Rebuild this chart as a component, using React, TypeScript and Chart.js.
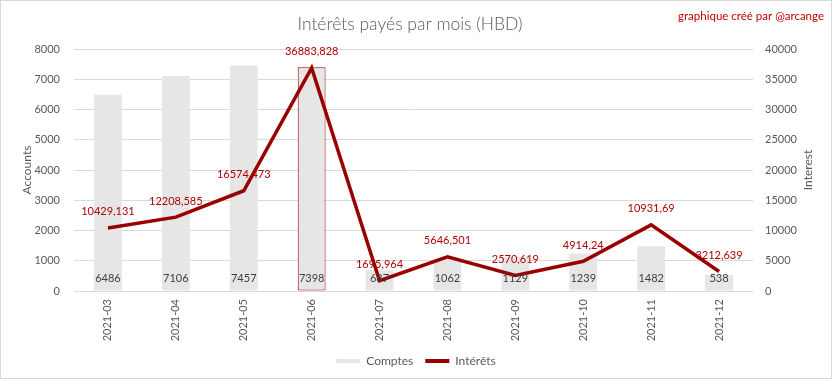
import React, { useEffect, useRef } from "react";
import { Chart, registerables } from "chart.js";

Chart.register(...registerables);

const months = ["2021-03", "2021-04", "2021-05", "2021-06", "2021-07", "2021-08", "2021-09", "2021-10", "2021-11", "2021-12"];
const comptes = [6486, 7106, 7457, 7398, 687, 1062, 1129, 1239, 1482, 538];
const interets = [10429.131, 12208.585, 16574.473, 36883.828, 1695.964, 5646.501, 2570.619, 4914.24, 10931.69, 3212.639];
const highlightMonth = "2021-06";
const leftTicks = [0, 8000, 1000];
const rightTicks = [0, 40000, 5000];

const titleText = "Intérêts payés par mois (HBD)";
const creditText = "graphique créé par @arcange";
const FONT = "Lato, 'Noto Sans', sans-serif";

const fmt = (v: number) => String(v).replace(".", ",");

const overlayPlugin = {
  id: "overlay",
  beforeDraw(chart: any) {
    const ctx = chart.ctx;
    ctx.save();
    ctx.fillStyle = "#ffffff";
    ctx.fillRect(0, 0, chart.width, chart.height);
    ctx.restore();
  },
  afterDraw(chart: any) {
    const ctx = chart.ctx;
    ctx.save();
    ctx.strokeStyle = "#d9d9d9";
    ctx.lineWidth = 1;
    ctx.strokeRect(0.5, 0.5, chart.width - 1, chart.height - 1);
    ctx.fillStyle = "#595959";
    ctx.font = `300 17.5px ${FONT}`;
    ctx.textAlign = "center";
    ctx.textBaseline = "middle";
    ctx.fillText(titleText, 410, 24);
    ctx.fillStyle = "#c00000";
    ctx.font = `11.5px ${FONT}`;
    ctx.textAlign = "right";
    ctx.fillText(creditText, 824, 16);
    ctx.fillStyle = "#595959";
    ctx.font = `12px ${FONT}`;
    ctx.textAlign = "center";
    ctx.save();
    ctx.translate(27, 170);
    ctx.rotate(-Math.PI / 2);
    ctx.fillText("Accounts", 0, 0);
    ctx.restore();
    ctx.save();
    ctx.translate(808, 170);
    ctx.rotate(-Math.PI / 2);
    ctx.fillText("Interest", 0, 0);
    ctx.restore();
    const barMeta = chart.getDatasetMeta(0);
    const lineMeta = chart.getDatasetMeta(1);
    const y0 = chart.scales.y.getPixelForValue(0);
    ctx.font = `11px ${FONT}`;
    ctx.textAlign = "center";
    ctx.fillStyle = "#404040";
    barMeta.data.forEach((el: any, i: number) => {
      ctx.fillText(String(comptes[i]), el.x, y0 - 13);
    });
    ctx.fillStyle = "#b00000";
    lineMeta.data.forEach((el: any, i: number) => {
      ctx.fillText(fmt(interets[i]), el.x, el.y - 16);
    });
    ctx.restore();
  },
};

export default function App() {
  const ref = useRef<HTMLCanvasElement>(null);
  useEffect(() => {
    document.body.style.margin = "0";
    const chart = new Chart(ref.current!, {
      type: "bar",
      data: {
        labels: months,
        datasets: [
          {
            type: "bar",
            label: "Comptes",
            data: comptes,
            yAxisID: "y",
            backgroundColor: "#e6e6e6",
            borderColor: months.map((m) => (m === highlightMonth ? "#990000" : "#e6e6e6")),
            borderWidth: months.map((m) => (m === highlightMonth ? 1 : 0)),
            borderSkipped: false,
            categoryPercentage: 1,
            barPercentage: 0.41,
            order: 2,
          },
          {
            type: "line",
            label: "Intérêts",
            data: interets,
            yAxisID: "y1",
            borderColor: "#990000",
            backgroundColor: "#990000",
            borderWidth: 3.5,
            pointRadius: 0,
            tension: 0,
            order: 1,
          } as any,
        ],
      },
      options: {
        responsive: false,
        animation: false,
        layout: { padding: { top: 49, left: 0, right: 0, bottom: 2 } },
        plugins: {
          title: { display: false },
          tooltip: { enabled: false },
          legend: {
            position: "bottom",
            labels: {
              color: "#595959",
              font: { family: FONT, size: 12 },
              boxWidth: 24,
              boxHeight: 4,
              padding: 12,
              generateLabels: (c: any) =>
                c.data.datasets.map((d: any, i: number) => ({
                  text: d.label,
                  fillStyle: i === 0 ? "#e6e6e6" : "#990000",
                  strokeStyle: i === 0 ? "#e6e6e6" : "#990000",
                  lineWidth: 0,
                  datasetIndex: i,
                  fontColor: "#595959",
                })),
            },
          },
        },
        scales: {
          x: {
            grid: { display: false, drawTicks: false },
            border: { display: false },
            ticks: {
              color: "#595959",
              font: { family: FONT, size: 11 },
              minRotation: 90,
              maxRotation: 90,
              padding: 8,
            },
            afterFit: (s: any) => {
              s.height = s.chart.height - 2 - s.chart.legend.height - 291;
            },
          },
          y: {
            position: "left",
            min: leftTicks[0],
            max: leftTicks[1],
            grid: { color: "#d9d9d9", drawTicks: false },
            border: { display: false },
            ticks: {
              stepSize: leftTicks[2],
              color: "#595959",
              font: { family: FONT, size: 11 },
              padding: 14,
              callback: (v: any) => String(v),
            },
            afterFit: (s: any) => {
              s.width = 74;
            },
          },
          y1: {
            position: "right",
            min: rightTicks[0],
            max: rightTicks[1],
            grid: { display: false, drawTicks: false },
            border: { display: false },
            ticks: {
              stepSize: rightTicks[2],
              color: "#595959",
              font: { family: FONT, size: 11 },
              padding: 12,
              callback: (v: any) => String(v),
            },
            afterFit: (s: any) => {
              s.width = 79;
            },
          },
        },
      },
      plugins: [overlayPlugin],
    });
    return () => chart.destroy();
  }, []);
  return (
    <div style={{ width: 832, height: 379 }}>
      <canvas ref={ref} width={832} height={379} />
    </div>
  );
}
